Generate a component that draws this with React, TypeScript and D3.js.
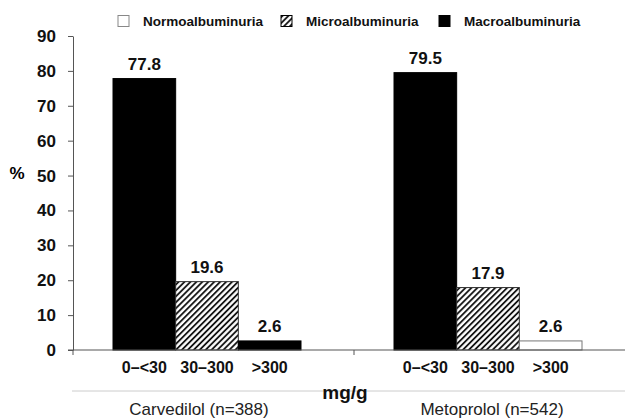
import React, { useEffect, useRef } from 'react';
import * as d3 from 'd3';

const groups = ['Carvedilol (n=388)', 'Metoprolol (n=542)'];
const categories = ['0–<30', '30–300', '>300'];
const carvedilolValues = [77.8, 19.6, 2.6];
const metoprololValues = [79.5, 17.9, 2.6];
// which legend style each bar uses (kept as in the original figure)
const carvedilolKinds = ['macro', 'micro', 'macro'];
const metoprololKinds = ['macro', 'micro', 'normo'];
const legendKinds = ['normo', 'micro', 'macro'];
const legendLabels = ['Normoalbuminuria', 'Microalbuminuria', 'Macroalbuminuria'];
const yTicks = [0, 10, 20, 30, 40, 50, 60, 70, 80, 90];

const FONT = '"Liberation Sans", Arial, Helvetica, sans-serif';

const App: React.FC = () => {
  const svgRef = useRef<SVGSVGElement>(null);

  useEffect(() => {
    if (!svgRef.current) return;
    const width = 625;
    const svg = d3.select(svgRef.current);
    svg.selectAll('*').remove();

    const defs = svg.append('defs');
    const pat = defs.append('pattern')
      .attr('id', 'hatch')
      .attr('patternUnits', 'userSpaceOnUse')
      .attr('width', 4.2)
      .attr('height', 4.2)
      .attr('patternTransform', 'rotate(45)');
    pat.append('rect').attr('width', 4.2).attr('height', 4.2).attr('fill', '#fff');
    pat.append('line')
      .attr('x1', 1).attr('y1', 0).attr('x2', 1).attr('y2', 4.2)
      .attr('stroke', '#000').attr('stroke-width', 1.7);

    const fillFor = (k: string) => (k === 'macro' ? '#000' : k === 'micro' ? 'url(#hatch)' : '#fff');
    const strokeFor = (k: string) => (k === 'normo' ? '#777' : k === 'micro' ? '#333' : '#000');

    const axisX = 73;
    const y = d3.scaleLinear().domain([0, 90]).range([350, 36]);
    const xGroup = d3.scaleBand<string>().domain(groups).range([axisX, axisX + 562]).padding(0);
    const xCat = d3.scaleBand<string>().domain(categories).range([40, 228]).padding(0);

    // legend
    const legendX = [118, 281, 439];
    const legend = svg.append('g');
    legendKinds.forEach((k, i) => {
      legend.append('rect')
        .attr('x', legendX[i]).attr('y', 15.5).attr('width', 11).attr('height', 11)
        .attr('fill', fillFor(k)).attr('stroke', k === 'normo' ? '#888' : '#000').attr('stroke-width', 1);
      legend.append('text')
        .attr('x', legendX[i] + 25).attr('y', 26)
        .attr('font-family', FONT).attr('font-weight', 'bold').attr('font-size', 13.5)
        .attr('fill', '#111')
        .text(legendLabels[i]);
    });

    // y axis
    const yAxis = d3.axisLeft(y).tickValues(yTicks).tickSize(5).tickPadding(12).tickSizeOuter(0);
    const gy = svg.append('g').attr('transform', `translate(${axisX},0)`).call(yAxis);
    gy.select('.domain').attr('stroke', '#555');
    gy.selectAll('.tick line').attr('stroke', '#555');
    gy.selectAll('.tick text')
      .attr('font-family', FONT).attr('font-weight', 'bold').attr('font-size', 17).attr('fill', '#111');

    svg.append('text')
      .attr('x', 17).attr('y', 179).attr('text-anchor', 'middle')
      .attr('font-family', FONT).attr('font-weight', 'bold').attr('font-size', 17)
      .text('%');

    // bars
    groups.forEach((g, gi) => {
      const values = gi === 0 ? carvedilolValues : metoprololValues;
      const kinds = gi === 0 ? carvedilolKinds : metoprololKinds;
      const gx = xGroup(g)!;
      const gg = svg.append('g').attr('transform', `translate(${gx},0)`);
      categories.forEach((c, ci) => {
        const v = values[ci];
        const k = kinds[ci];
        gg.append('rect')
          .attr('x', xCat(c)!)
          .attr('y', y(v))
          .attr('width', xCat.bandwidth())
          .attr('height', y(0) - y(v))
          .attr('fill', fillFor(k))
          .attr('stroke', strokeFor(k))
          .attr('stroke-width', 1);
        gg.append('text')
          .attr('x', xCat(c)! + xCat.bandwidth() / 2)
          .attr('y', y(v) - 9)
          .attr('text-anchor', 'middle')
          .attr('font-family', FONT).attr('font-weight', 'bold').attr('font-size', 17)
          .attr('fill', '#111')
          .text(v.toFixed(1));
        gg.append('text')
          .attr('x', xCat(c)! + xCat.bandwidth() / 2)
          .attr('y', 373)
          .attr('text-anchor', 'middle')
          .attr('font-family', FONT).attr('font-weight', 'bold').attr('font-size', 16)
          .attr('fill', '#111')
          .text(c);
      });
      // group label
      const cx = gx + (xCat(categories[0])! + xCat(categories[2])! + xCat.bandwidth()) / 2;
      svg.append('text')
        .attr('x', cx + (gi === 0 ? -8 : 4))
        .attr('y', 415)
        .attr('text-anchor', 'middle')
        .attr('font-family', FONT).attr('font-size', 17)
        .attr('fill', '#222')
        .text(g);
    });

    // x axis line with group separators
    svg.append('line')
      .attr('x1', axisX - 5).attr('x2', width).attr('y1', y(0)).attr('y2', y(0))
      .attr('stroke', '#555').attr('stroke-width', 1);
    groups.forEach((g) => {
      const tx = xGroup(g)!;
      svg.append('line')
        .attr('x1', tx).attr('x2', tx).attr('y1', y(0)).attr('y2', y(0) + 5)
        .attr('stroke', '#555');
    });

    // divider and unit
    svg.append('line')
      .attr('x1', axisX - 1).attr('x2', width).attr('y1', 391).attr('y2', 391)
      .attr('stroke', '#ccc').attr('stroke-width', 1);
    svg.append('text')
      .attr('x', 345).attr('y', 399).attr('text-anchor', 'middle')
      .attr('font-family', FONT).attr('font-weight', 'bold').attr('font-size', 19)
      .attr('fill', '#111')
      .text('mg/g');
  }, []);

  return (
    <svg
      ref={svgRef}
      width={625}
      height={420}
      style={{ position: 'absolute', left: 0, top: 0, background: '#fff', display: 'block' }}
    ></svg>
  );
};

export default App;
